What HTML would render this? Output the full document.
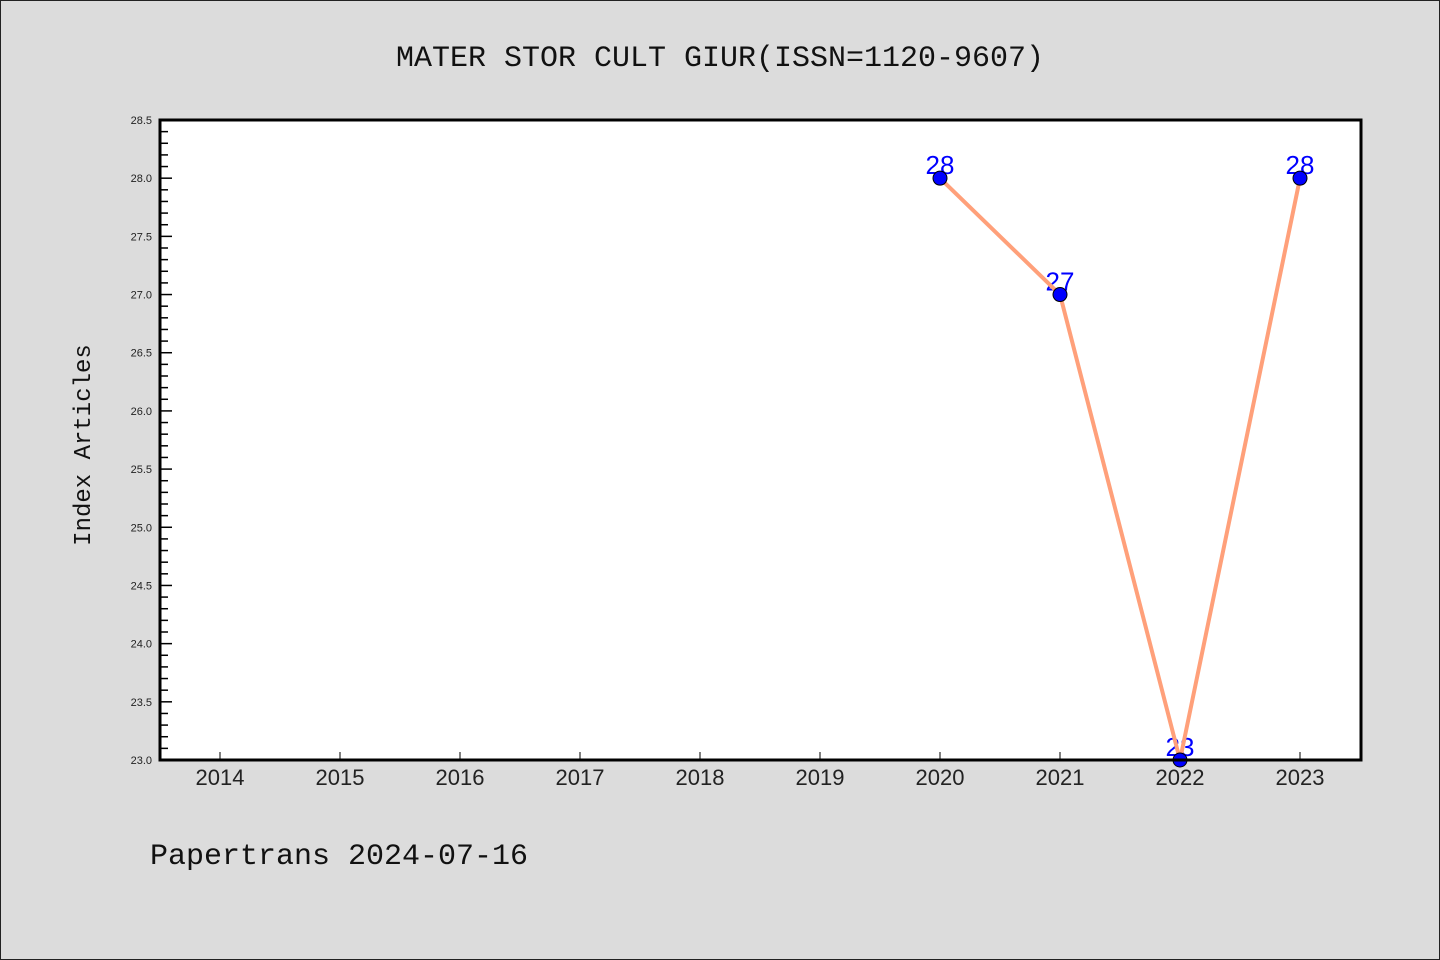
<!DOCTYPE html>
<html><head><meta charset="utf-8"><style>
html,body{margin:0;padding:0;background:#dcdcdc;}
svg{display:block;font-family:"Liberation Mono","DejaVu Sans Mono",monospace;}
</style></head><body>
<svg id="chart" width="1440" height="960" xmlns="http://www.w3.org/2000/svg">
<rect x="0.5" y="0.5" width="1439" height="959" fill="#dcdcdc" stroke="#222"/>
<text x="720" y="66" text-anchor="middle" font-size="30" fill="#111">MATER STOR CULT GIUR(ISSN=1120-9607)</text>
<rect x="160" y="120" width="1201" height="640" fill="#fff"/>
<g id="axes"></g>
<g id="series"></g>
<rect x="160" y="120" width="1201" height="640" fill="none" stroke="#000" stroke-width="3"/>
<text x="90" y="445" text-anchor="middle" font-size="24" fill="#111" transform="rotate(-90 90 445)">Index Articles</text>
<text x="150" y="864" font-size="30" fill="#111">Papertrans 2024-07-16</text>
</svg>
<script>
const years=[2020,2021,2022,2023];
const values=[28,27,23,28];
const xTickLabels=[2014,2015,2016,2017,2018,2019,2020,2021,2022,2023];
const yTickLabels=["23.0","23.5","24.0","24.5","25.0","25.5","26.0","26.5","27.0","27.5","28.0","28.5"];
const NS="http://www.w3.org/2000/svg";
const X=v=>160+(v-2013.5)*120;
const Y=v=>760-(v-23)*(640/5.5);
function mk(t,a,p){const e=document.createElementNS(NS,t);for(const k in a)e.setAttribute(k,a[k]);p.appendChild(e);return e;}
const ax=document.getElementById('axes');
xTickLabels.forEach(v=>{
  const l=mk('line',{x1:X(v),x2:X(v),y1:760,y2:752,stroke:'#000','stroke-width':1},ax);
  
  
  const t=mk('text',{x:X(v),y:785,'text-anchor':'middle','font-size':22,fill:'#222','font-family':'Liberation Sans, sans-serif'},ax);
  t.textContent=v;
  
  
});
for(let i=0;i<=55;i++){
  const v=23+i*0.1, major=i%5===0;
  const l=mk('line',{x1:160,x2:major?172:168,y1:Y(v),y2:Y(v),stroke:'#000','stroke-width':1.5},ax);
  
  
}
yTickLabels.forEach(s=>{
  const t=mk('text',{x:152,y:Y(parseFloat(s))+4,'text-anchor':'end','font-size':11,fill:'#222','font-family':'Liberation Sans, sans-serif'},ax);
  t.textContent=s;
  
  
});
const sg=document.getElementById('series');
years.forEach((y,i)=>{
  const t=mk('text',{x:X(y),y:Y(values[i])-4,'text-anchor':'middle','font-size':26,fill:'#0000ff','font-family':'Liberation Sans, sans-serif'},sg);
  t.textContent=values[i];
  
  
});
const pl=mk('polyline',{points:years.map((y,i)=>X(y)+','+Y(values[i])).join(' '),fill:'none',stroke:'#ffa07a','stroke-width':4},sg);


years.forEach((y,i)=>{
  const c=mk('circle',{cx:X(y),cy:Y(values[i]),r:7,fill:'#0000ff',stroke:'#000','stroke-width':1},sg);
  
  
});
</script>
</body></html>
